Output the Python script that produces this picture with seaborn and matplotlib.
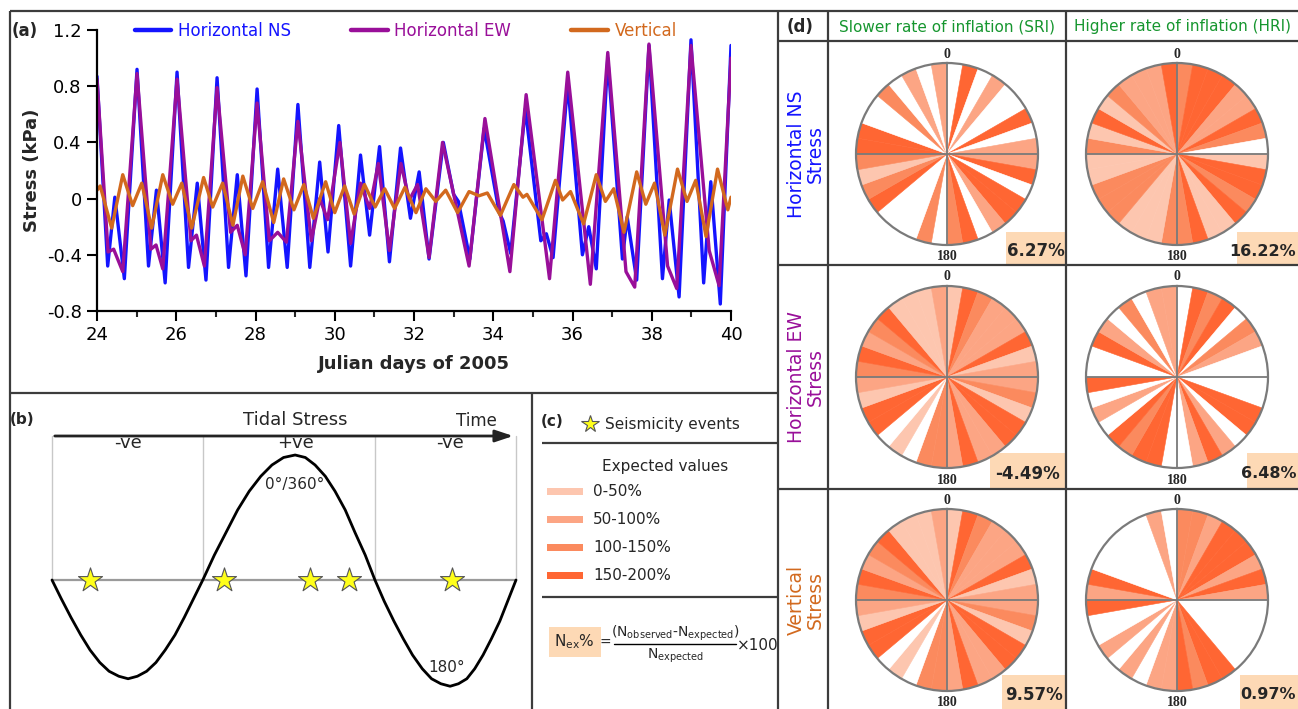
import numpy as np
import pandas as pd
import matplotlib
matplotlib.use("Agg")
import matplotlib.pyplot as plt
import seaborn as sns
from matplotlib.patches import Rectangle

sns.set_theme(style="white")
plt.rcParams['font.family'] = ['DejaVu Sans']
plt.rcParams['mathtext.fontset'] = 'dejavusans'

W, H = 1298, 709

# ---------------- Panel (a) data: tidal stress (kPa) vs Julian day ----------------
ns_day = [24.00, 24.27, 24.45, 24.69, 25.01, 25.30, 25.50, 25.72, 26.02, 26.31, 26.53, 26.75,
          27.03, 27.32, 27.54, 27.76, 28.04, 28.33, 28.56, 28.80, 29.07, 29.37, 29.62, 29.83,
          30.10, 30.40, 30.65, 30.88, 31.13, 31.38, 31.66, 31.91, 32.13, 32.38, 32.74, 33.00,
          33.12, 33.41, 33.77, 34.15, 34.25, 34.44, 34.81, 35.20, 35.34, 35.51, 35.88, 36.25,
          36.41, 36.60, 36.89, 37.26, 37.38, 37.62, 37.93, 38.27, 38.44, 38.69, 38.99, 39.31,
          39.49, 39.73, 40.00]
ns_val = [0.87, -0.48, 0.01, -0.57, 0.92, -0.48, 0.06, -0.60, 0.90, -0.49, 0.11, -0.58,
          0.86, -0.49, 0.17, -0.55, 0.78, -0.49, 0.21, -0.49, 0.67, -0.49, 0.26, -0.38,
          0.52, -0.48, 0.31, -0.26, 0.37, -0.45, 0.36, -0.14, 0.19, -0.43, 0.40, 0.03,
          -0.02, -0.43, 0.50, -0.10, -0.16, -0.39, 0.64, -0.30, -0.25, -0.42, 0.82, -0.40,
          -0.20, -0.50, 1.00, -0.43, -0.13, -0.58, 1.09, -0.57, -0.01, -0.70, 1.13, -0.60,
          0.12, -0.75, 1.09]

ew_day = [24.00, 24.28, 24.42, 24.65, 25.01, 25.36, 25.49, 25.66, 26.02, 26.37, 26.51, 26.71,
          27.03, 27.37, 27.54, 27.74, 28.04, 28.35, 28.56, 28.78, 29.07, 29.41, 29.62, 29.82,
          30.13, 30.40, 30.65, 30.88, 31.10, 31.38, 31.67, 31.88, 32.09, 32.38, 32.72, 33.39,
          33.79, 34.42, 34.83, 35.42, 35.88, 36.45, 36.89, 37.35, 37.57, 37.93, 38.40, 38.63,
          38.99, 39.45, 39.70, 40.00]
ew_val = [0.85, -0.38, -0.36, -0.52, 0.89, -0.36, -0.33, -0.50, 0.85, -0.30, -0.26, -0.48,
          0.79, -0.24, -0.19, -0.40, 0.68, -0.30, -0.24, -0.31, 0.55, -0.30, 0.00, -0.15,
          0.40, -0.32, 0.11, -0.07, 0.25, -0.37, 0.25, -0.01, 0.10, -0.42, 0.40, -0.48,
          0.57, -0.52, 0.74, -0.57, 0.90, -0.61, 1.04, -0.52, -0.63, 1.10, -0.48, -0.64,
          1.09, -0.37, -0.62, 1.00]

vt_day = [24.00, 24.08, 24.37, 24.65, 24.90, 25.13, 25.38, 25.66, 25.91, 26.14, 26.39, 26.69,
          26.92, 27.17, 27.43, 27.68, 27.93, 28.18, 28.46, 28.71, 28.97, 29.22, 29.46, 29.77,
          30.00, 30.25, 30.49, 30.75, 31.02, 31.26, 31.51, 31.77, 32.05, 32.30, 32.55, 32.80,
          33.10, 33.39, 33.64, 33.85, 34.18, 34.52, 34.75, 34.85, 35.23, 35.57, 35.75, 35.95,
          36.28, 36.60, 36.83, 37.04, 37.30, 37.62, 37.85, 38.07, 38.33, 38.65, 38.89, 39.11,
          39.37, 39.66, 39.92, 40.00]
vt_val = [0.06, 0.09, -0.21, 0.17, -0.05, 0.11, -0.21, 0.17, -0.04, 0.11, -0.21, 0.15,
          -0.06, 0.11, -0.19, 0.16, -0.07, 0.12, -0.17, 0.14, -0.08, 0.10, -0.14, 0.12,
          -0.10, 0.09, -0.11, 0.10, -0.06, 0.07, -0.07, 0.08, -0.10, 0.07, -0.02, 0.06,
          -0.10, 0.05, 0.02, 0.04, -0.12, 0.10, 0.01, 0.03, -0.15, 0.13, -0.01, 0.05,
          -0.18, 0.17, -0.02, 0.07, -0.24, 0.19, -0.04, 0.11, -0.26, 0.21, -0.02, 0.13,
          -0.27, 0.21, -0.08, 0.01]

components = ["Horizontal NS", "Horizontal EW", "Vertical"]
comp_colors = ["#1414ff", "#990f99", "#d2691e"]
y_ticks = [-0.8, -0.4, 0.0, 0.4, 0.8, 1.2]
y_ticklabels = ["-0.8", "-0.4", "0", "0.4", "0.8", "1.2"]
x_ticks = [24, 26, 28, 30, 32, 34, 36, 38, 40]

# ---------------- Panel (b) schematic ----------------
wave_t = [0.000, 0.020, 0.041, 0.062, 0.082, 0.103, 0.123, 0.144, 0.164, 0.184, 0.204, 0.224,
          0.244, 0.265, 0.285, 0.305, 0.325, 0.350, 0.375, 0.400, 0.425, 0.450, 0.474, 0.499,
          0.524, 0.546, 0.567, 0.589, 0.610, 0.632, 0.653, 0.675, 0.696, 0.716, 0.737, 0.757,
          0.777, 0.798, 0.818, 0.838, 0.858, 0.876, 0.894, 0.911, 0.929, 0.947, 0.965, 0.982,
          1.000]
wave_s = [0.00, -0.15, -0.30, -0.44, -0.56, -0.66, -0.73, -0.77, -0.79, -0.77, -0.73, -0.66,
          -0.56, -0.44, -0.30, -0.15, 0.00, 0.20, 0.38, 0.56, 0.71, 0.83, 0.92, 0.98,
          1.00, 0.98, 0.92, 0.83, 0.71, 0.56, 0.38, 0.20, 0.00, -0.17, -0.33, -0.47,
          -0.60, -0.71, -0.79, -0.83, -0.85, -0.83, -0.79, -0.71, -0.60, -0.47, -0.33, -0.17,
          0.00]
event_t = [0.082, 0.371, 0.556, 0.640, 0.862]
quarter_t = [0.0, 0.325, 0.696, 1.0]

# ---------------- Panel (c)/(d) data ----------------
level_labels = ["0-50%", "50-100%", "100-150%", "150-200%"]
level_colors = ["#ffffff", "#fdc6af", "#fca584", "#fb8a5e", "#ff6633"]

rows = ["Horizontal NS\nStress", "Horizontal EW\nStress", "Vertical\nStress"]
row_colors = ["#1414ff", "#990f99", "#d2691e"]
cols = ["Slower rate of inflation (SRI)", "Higher rate of inflation (HRI)"]

# 36 phase bins of 10 deg, clockwise from 0 (top); 0 = no events
wheel_levels = {
    (0, 0): [0, 4, 0, 2, 0, 0, 4, 0, 2, 2, 4, 0, 4, 4, 2, 0, 4, 3,
             0, 3, 0, 0, 0, 4, 3, 1, 3, 4, 4, 0, 0, 3, 0, 2, 0, 2],
    (0, 1): [3, 4, 4, 4, 2, 2, 4, 3, 0, 1, 4, 4, 3, 4, 1, 1, 4, 3,
             3, 1, 1, 1, 3, 3, 3, 1, 1, 3, 1, 4, 1, 3, 2, 2, 2, 4],
    (1, 0): [1, 4, 3, 2, 2, 2, 4, 1, 2, 2, 3, 1, 4, 4, 2, 2, 4, 2,
             3, 3, 0, 1, 0, 4, 4, 1, 2, 3, 4, 2, 3, 4, 1, 1, 1, 2],
    (1, 1): [0, 4, 3, 4, 0, 3, 2, 0, 0, 0, 0, 4, 4, 0, 2, 4, 2, 0,
             0, 4, 4, 3, 4, 0, 2, 0, 4, 0, 0, 4, 2, 0, 3, 0, 2, 2],
    (2, 0): [1, 4, 3, 2, 2, 2, 4, 1, 2, 2, 3, 1, 4, 4, 2, 2, 4, 2,
             3, 3, 0, 1, 0, 4, 4, 1, 2, 3, 4, 2, 3, 4, 1, 1, 1, 2],
    (2, 1): [3, 3, 2, 4, 4, 4, 2, 4, 2, 0, 0, 0, 0, 0, 4, 4, 3, 4,
             2, 2, 0, 2, 0, 2, 0, 0, 4, 2, 4, 0, 0, 0, 0, 0, 2, 0],
}
nex_values = {(0, 0): "6.27%", (0, 1): "16.22%", (1, 0): "-4.49%",
              (1, 1): "6.48%", (2, 0): "9.57%", (2, 1): "0.97%"}


def frac(x0, y0, x1, y1):
    return [x0 / W, 1 - y1 / H, (x1 - x0) / W, (y1 - y0) / H]


fig = plt.figure(figsize=(W / 100, H / 100), dpi=100)
fig.patch.set_facecolor("white")

# background / frame axes in pixel coordinates
bg = fig.add_axes([0, 0, 1, 1])
bg.set_xlim(0, W)
bg.set_ylim(H, 0)
bg.axis("off")
bg.set_zorder(0)
fc = "#3c3c3c"
flw = 1.6
for (x0, y0, x1, y1) in [(10, 11, W, 11), (10, 11, 10, H), (10, 393, 778, 393), (532, 393, 532, H),
                         (778, 11, 778, H), (828, 11, 828, H), (1066, 11, 1066, H),
                         (778, 41, W, 41), (778, 265, W, 265), (778, 489, W, 489),
                         (542, 443, 778, 443), (542, 597, 778, 597)]:
    bg.plot([x0, x1], [y0, y1], color=fc, lw=flw, solid_capstyle="butt")

bg.text(25, 31, "(a)", fontsize=12, fontweight="bold", ha="center", va="center")
bg.text(22, 420, "(b)", fontsize=11, fontweight="bold", ha="center", va="center")
bg.text(552, 422, "(c)", fontsize=11, fontweight="bold", ha="center", va="center")
bg.text(800, 27, "(d)", fontsize=12, fontweight="bold", ha="center", va="center")

# ---------------- Panel (a) ----------------
ax = fig.add_axes(frac(97, 30, 731, 311))
ax.patch.set_alpha(0)
df = pd.concat([
    pd.DataFrame({"day": ns_day, "stress": ns_val, "component": components[0]}),
    pd.DataFrame({"day": ew_day, "stress": ew_val, "component": components[1]}),
    pd.DataFrame({"day": vt_day, "stress": vt_val, "component": components[2]}),
])
sns.lineplot(data=df, x="day", y="stress", hue="component", hue_order=components,
             palette=dict(zip(components, comp_colors)), estimator=None, sort=False,
             linewidth=2.4, ax=ax, legend=True)
ax.set_xlim(24, 40)
ax.set_ylim(-0.8, 1.2)
ax.set_xticks(x_ticks)
ax.set_xticklabels([str(v) for v in x_ticks])
ax.set_xticks([25, 27, 29, 31, 33, 35, 37, 39], minor=True)
ax.set_yticks(y_ticks)
ax.set_yticklabels(y_ticklabels)
for s in ["top", "right"]:
    ax.spines[s].set_visible(False)
for s in ["left", "bottom"]:
    ax.spines[s].set_color("black")
    ax.spines[s].set_linewidth(1.6)
ax.tick_params(axis="both", which="major", direction="out", length=7, width=1.5,
               labelsize=13, colors="black", pad=4, bottom=True, left=True)
ax.tick_params(axis="x", which="minor", direction="out", length=4, width=1.5, bottom=True)
ax.set_xlabel("Julian days of 2005", fontsize=13, fontweight="bold", labelpad=8)
ax.set_ylabel("Stress (kPa)", fontsize=13, fontweight="bold")
ax.yaxis.set_label_coords(-0.088, 0.5)
leg = ax.legend(loc="center", bbox_to_anchor=(0.487, 0.998), ncol=3, frameon=False,
                fontsize=12, handlelength=2.2, handletextpad=0.4, columnspacing=3.6,
                labelcolor="linecolor", borderaxespad=0)
for l in leg.get_lines():
    l.set_linewidth(3.2)

# ---------------- Panel (b) ----------------
axb = fig.add_axes(frac(10, 394, 531, H))
axb.axis("off")
axb.patch.set_alpha(0)
# data coords: t in [0,1] -> px 52..516; stress 0 -> py 580, 1 -> py 455
axb.set_xlim((10 - 52) / 464, (531 - 52) / 464)
axb.set_ylim((580 - H) / 125, (580 - 394) / 125)
arrow_y = (580 - 436) / 125
for t in quarter_t:
    axb.plot([t, t], [0, arrow_y], color="#c8c8c8", lw=1.0, zorder=1)
axb.plot([0, 1], [0, 0], color="#9a9a9a", lw=1.6, zorder=1)
axb.annotate("", xy=(1.0, arrow_y), xytext=(0, arrow_y),
             arrowprops=dict(arrowstyle="-|>,head_length=0.9,head_width=0.3", color="#222", lw=2.0),
             zorder=3)
sns.lineplot(x=wave_t, y=wave_s, color="black", linewidth=2.0, ax=axb, sort=False,
             estimator=None, legend=False)
sns.scatterplot(x=event_t, y=[0] * len(event_t), marker="*", s=330, color="#ffff1a",
                edgecolor="#555555", linewidth=0.8, ax=axb, zorder=5, legend=False)
axb.text(0.524, (580 - 420) / 125, "Tidal Stress", fontsize=13, ha="center", va="center")
axb.text(0.914, (580 - 421) / 125, "Time", fontsize=12, ha="center", va="center")
axb.text(0.164, (580 - 443) / 125, "-ve", fontsize=13, ha="center", va="center")
axb.text(0.524, (580 - 443) / 125, "+ve", fontsize=13, ha="center", va="center")
axb.text(0.858, (580 - 443) / 125, "-ve", fontsize=13, ha="center", va="center")
axb.text(0.524, (580 - 485) / 125, "0°/360°", fontsize=11, ha="center", va="center")
axb.text(0.851, (580 - 668) / 125, "180°", fontsize=11, ha="center", va="center")
axb.set_xlabel("")
axb.set_ylabel("")

# ---------------- Panel (c) ----------------
bg.plot([590], [424], marker="*", ms=13, mfc="#ffff1a", mec="#555555", mew=0.8)
bg.text(605, 425, "Seismicity events", fontsize=11, ha="left", va="center")
bg.text(665, 467, "Expected values", fontsize=11, ha="center", va="center")
for i, (lab, yc) in enumerate(zip(level_labels, [491, 519, 547, 575])):
    bg.add_patch(Rectangle((547, yc - 3.5), 36, 7, facecolor=level_colors[i + 1], edgecolor="none"))
    bg.text(593, yc, lab, fontsize=11, ha="left", va="center")
bg.add_patch(Rectangle((549, 627), 52, 30, facecolor="#fdd9b5", edgecolor="none"))
bg.text(574, 642, r"N$_{\mathregular{ex}}$%", fontsize=11, ha="center", va="center")
bg.text(605, 643, "=", fontsize=10, ha="center", va="center")
bg.text(675, 633, r"(N$_{\mathregular{observed}}$-N$_{\mathregular{expected}}$)", fontsize=10,
        ha="center", va="center")
bg.plot([614, 736], [644, 644], color="black", lw=1.0)
bg.text(675, 656, r"N$_{\mathregular{expected}}$", fontsize=10, ha="center", va="center")
bg.text(758, 645, "×100", fontsize=11, ha="center", va="center")

# ---------------- Panel (d) ----------------
col_cx = [947, 1177]
row_cy = [154, 377, 600]
radius = 91
bg.text(947, 27, cols[0], fontsize=11, color="#16962f", ha="center", va="center")
bg.text(1183, 27, cols[1], fontsize=11, color="#16962f", ha="center", va="center")
for r, lab in enumerate(rows):
    bg.text(806, row_cy[r], lab, fontsize=13.5, color=row_colors[r], rotation=90,
            ha="center", va="center", multialignment="center", linespacing=1.0)

theta = np.deg2rad(np.arange(36) * 10 + 5)
for (r, c), levels in wheel_levels.items():
    cx, cy = col_cx[c], row_cy[r]
    axp = fig.add_axes(frac(cx - radius, cy - radius, cx + radius, cy + radius), projection="polar")
    colors = [level_colors[v] for v in levels]
    axp.bar(theta, [1] * 36, width=np.deg2rad(10), bottom=0, color=colors,
            edgecolor=colors, linewidth=0.4, align="center")
    axp.set_theta_zero_location("N")
    axp.set_theta_direction(-1)
    axp.set_ylim(0, 1)
    axp.grid(False)
    axp.set_xticks([])
    axp.set_yticks([])
    axp.spines["polar"].set_color("#7a7a7a")
    axp.spines["polar"].set_linewidth(1.6)
    for ang in [0, 90, 180, 270]:
        axp.plot([np.deg2rad(ang)] * 2, [0, 1], color="#7a7a7a", lw=1.3)
    bg.text(cx, cy - radius - 9, "0", fontsize=10, fontweight="bold", family="Liberation Serif",
            ha="center", va="center")
    bg.text(cx, cy + radius + 12, "180", fontsize=10, fontweight="bold", family="Liberation Serif",
            ha="center", va="center")

# N_ex% boxes
boxes = {(0, 0): (1006, 232, 1065, 265), (0, 1): (1237, 232, 1298, 265),
         (1, 0): (990, 453, 1065, 489), (1, 1): (1247, 453, 1298, 489),
         (2, 0): (1002, 675, 1065, 709), (2, 1): (1240, 675, 1298, 709)}
for key, (x0, y0, x1, y1) in boxes.items():
    bg.add_patch(Rectangle((x0, y0), x1 - x0, y1 - y0, facecolor="#fdd9b5", edgecolor="none", zorder=1))
    if key[1] == 0:
        bg.text((x0 + x1) / 2, y0 + (y1 - y0) * 0.58, nex_values[key], fontsize=12, fontweight="bold",
                ha="center", va="center", zorder=2)
    else:
        bg.text(1296, y0 + (y1 - y0) * 0.58, nex_values[key], fontsize=11.5, fontweight="bold",
                ha="right", va="center", zorder=2)

fig.savefig("out.png", dpi=100, facecolor="white")
